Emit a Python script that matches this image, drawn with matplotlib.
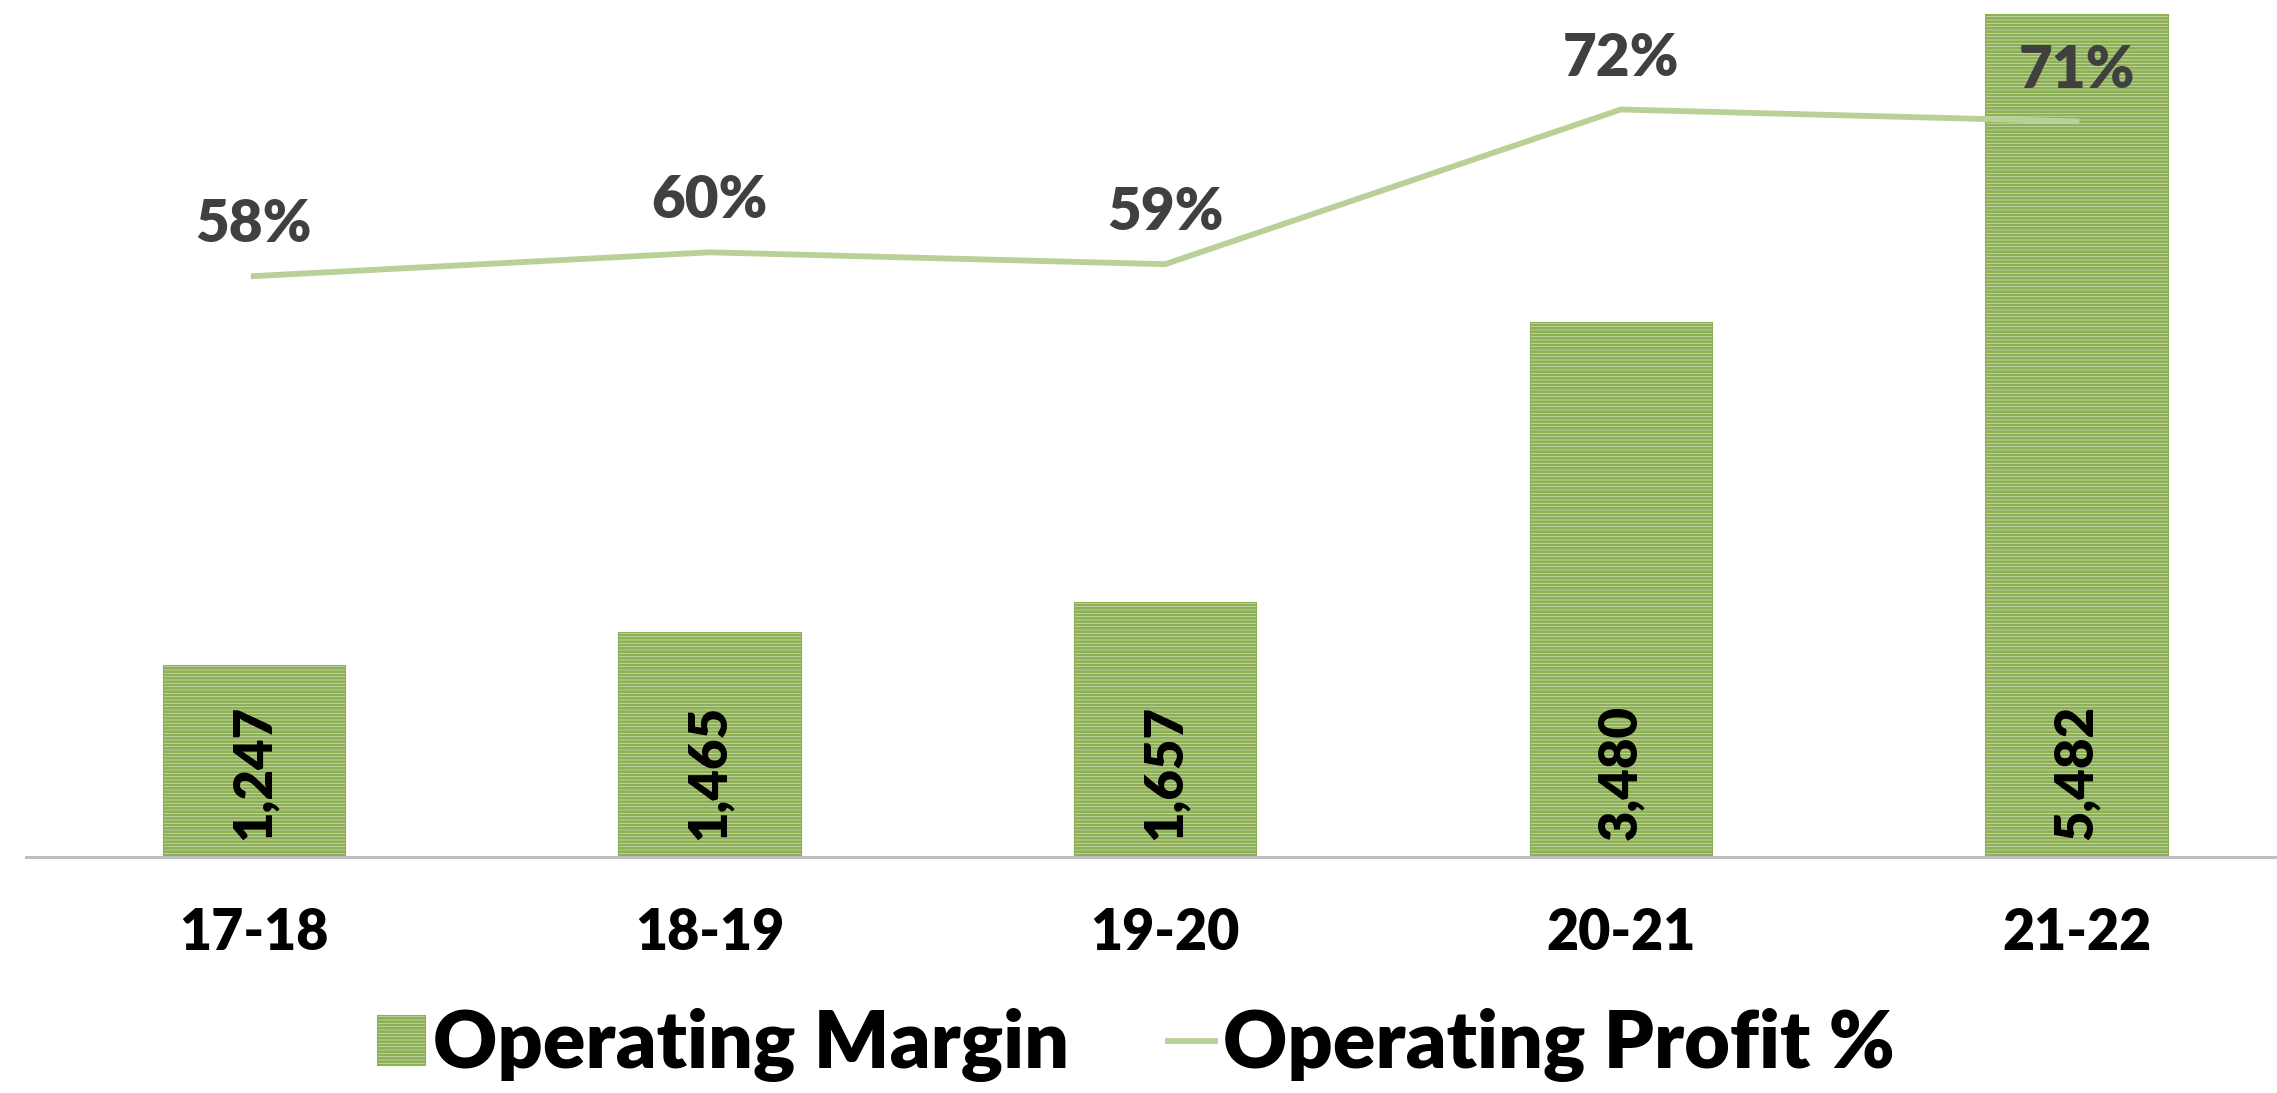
import matplotlib.pyplot as plt
import matplotlib.patches as mpatches
from matplotlib.lines import Line2D
import numpy as np

plt.rcParams['font.family'] = ['Lato', 'DejaVu Sans']
plt.rcParams['hatch.linewidth'] = 2.0

# Datos
years = ['17-18', '18-19', '19-20', '20-21', '21-22']
op_margin = [1247, 1465, 1657, 3480, 5482]
op_profit_pct = [58, 60, 59, 72, 71]

bar_face = '#E3ECD3'
bar_hatch = '#8DAF55'
line_col = '#B9D097'
wt = 'heavy'

fig = plt.figure(figsize=(22.77, 10.93), dpi=100)
ax = fig.add_axes([0.0114, 0.216, 0.9886, 0.784])
x = np.arange(len(years))

ax.bar(x, op_margin, width=0.4, color=bar_face, edgecolor=bar_hatch,
       hatch='-----', linewidth=0.8, zorder=2)
for xi, v in zip(x, op_margin):
    ax.annotate(f'{v:,}', (xi, 0), xytext=(0, 12), textcoords='offset points',
                rotation=90, ha='center', va='bottom', fontsize=38,
                fontweight=wt, color='black', zorder=5)

ax.set_xlim(-0.5, 4.44)
ax.set_ylim(0, 5576)
ax.set_yticks([])
for s in ['top', 'right', 'left']:
    ax.spines[s].set_visible(False)
ax.spines['bottom'].set_color('#BFBFBF')
ax.spines['bottom'].set_linewidth(2.2)
ax.set_xticks(x)
ax.set_xticklabels(years, fontsize=40, fontweight=wt)
ax.tick_params(axis='x', length=0, pad=36)

ax2 = ax.twinx()
ax2.plot(x, op_profit_pct, color=line_col, linewidth=4.2, zorder=3)
ax2.set_ylim(9.2, 81.2)
ax2.set_yticks([])
for s in ['top', 'right', 'left', 'bottom']:
    ax2.spines[s].set_visible(False)
for xi, v in zip(x, op_profit_pct):
    ax2.annotate(f'{v}%', (xi, v), xytext=(0, 37), textcoords='offset points',
                 ha='center', va='center', fontsize=42, fontweight=wt,
                 color='#404040')

h1 = mpatches.Rectangle((0, 0), 1, 1, facecolor=bar_face, edgecolor=bar_hatch,
                        hatch='-----', linewidth=0.8)
h2 = Line2D([0], [0], color=line_col, linewidth=4.2)
fig.legend([h1, h2], ['Operating Margin', 'Operating Profit %'],
           loc='center', bbox_to_anchor=(0.499, 0.044), ncol=2, frameon=False,
           prop={'size': 57, 'weight': wt}, handlelength=0.6,
           handleheight=0.6, handletextpad=0.1, columnspacing=1.25)

fig.savefig('out.png', dpi=100, facecolor='white')
